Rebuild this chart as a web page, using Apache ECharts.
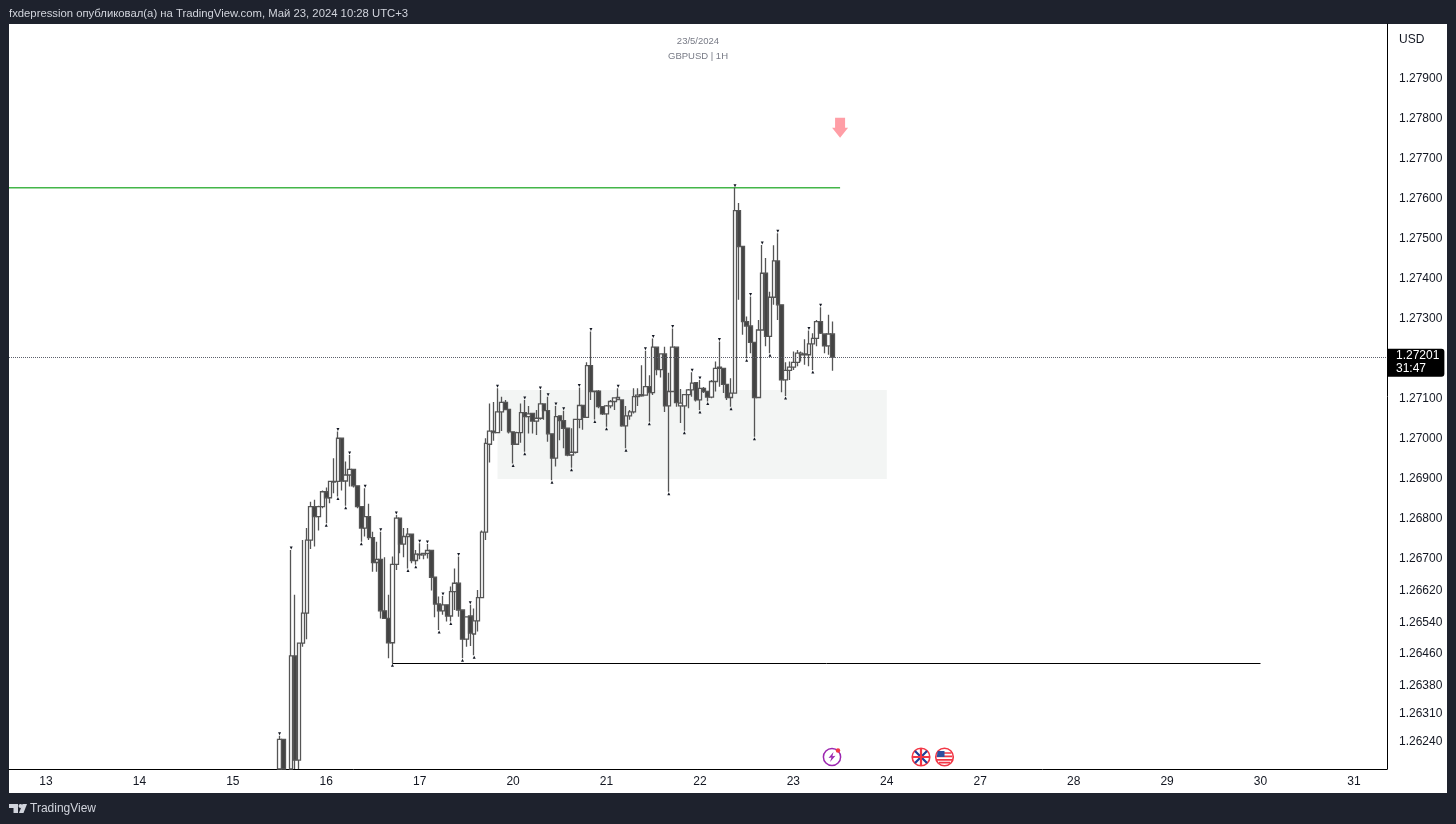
<!DOCTYPE html>
<html>
<head>
<meta charset="utf-8">
<title>GBPUSD 1H</title>
<script src="https://cdn.jsdelivr.net/npm/echarts@6/dist/echarts.min.js"></script>
<style>
    html, body { margin: 0; padding: 0; background: #1e222d; }
    #panel { position: absolute; left: 9px; top: 24px; width: 1438px; height: 769px; background: #fff; }
    #chart { position: absolute; left: 0; top: 0; width: 1456px; height: 824px; }
</style>
</head>
<body>
<div id="panel"></div>
<div id="chart"></div>
<script>
// every row is [open, close, low, high], prices under the visible range are cut at the axis
var bars15 = [
    [1.26170, 1.26244, 1.26170, 1.26253], [1.26244, 1.26170, 1.26170, 1.26244], [null, null, null, null],
    [1.26170, 1.26453, 1.26170, 1.26718], [1.26453, 1.26192, 1.26170, 1.26606], [1.26192, 1.26485, 1.26170, 1.26485],
    [1.26485, 1.26560, 1.26476, 1.26743], [1.26560, 1.26743, 1.26495, 1.26773], [1.26743, 1.26827, 1.26721, 1.26839],
    [1.26827, 1.26802, 1.26727, 1.26844], [1.26802, 1.26827, 1.26767, 1.26829], [1.26827, 1.26864, 1.26823, 1.26867]
];
var bars16 = [
    [1.26864, 1.26849, 1.26785, 1.26875], [1.26849, 1.26890, 1.26835, 1.26890], [1.26888, 1.26890, 1.26860, 1.26948],
    [1.26890, 1.26998, 1.26852, 1.27015], [1.26998, 1.26891, 1.26867, 1.26998], [1.26891, 1.26906, 1.26829, 1.26940],
    [1.26906, 1.26920, 1.26877, 1.26956], [1.26920, 1.26879, 1.26875, 1.26920], [1.26879, 1.26827, 1.26823, 1.26879],
    [1.26827, 1.26773, 1.26739, 1.26827], [1.26773, 1.26802, 1.26752, 1.26873], [1.26802, 1.26749, 1.26743, 1.26834],
    [1.26749, 1.26687, 1.26664, 1.26764], [1.26687, 1.26695, 1.26664, 1.26739], [1.26695, 1.26566, 1.26547, 1.26764],
    [1.26566, 1.26547, 1.26547, 1.26700], [1.26547, 1.26486, 1.26447, 1.26606], [1.26486, 1.26682, 1.26435, 1.26702],
    [1.26682, 1.26798, 1.26668, 1.26806], [1.26798, 1.26733, 1.26710, 1.26798], [1.26733, 1.26752, 1.26700, 1.26773],
    [1.26752, 1.26758, 1.26672, 1.26773], [1.26758, 1.26692, 1.26685, 1.26758], [1.26692, 1.26708, 1.26681, 1.26718]
];
var bars17 = [
    [1.26706, 1.26708, 1.26695, 1.26735], [1.26706, 1.26710, 1.26695, 1.26710], [1.26710, 1.26717, 1.26697, 1.26733],
    [1.26717, 1.26650, 1.26617, 1.26717], [1.26650, 1.26583, 1.26550, 1.26650], [1.26583, 1.26566, 1.26518, 1.26602],
    [1.26566, 1.26581, 1.26556, 1.26603], [1.26581, 1.26553, 1.26539, 1.26581], [1.26553, 1.26614, 1.26539, 1.26627],
    [1.26614, 1.26635, 1.26568, 1.26672], [1.26635, 1.26568, 1.26551, 1.26702], [1.26568, 1.26495, 1.26447, 1.26568],
    [1.26495, 1.26551, 1.26476, 1.26551], [1.26553, 1.26510, 1.26478, 1.26581], [1.26508, 1.26541, 1.26455, 1.26572],
    [1.26541, 1.26599, 1.26514, 1.26618], [1.26599, 1.26763, 1.26599, 1.26767], [1.26763, 1.26985, 1.26743, 1.26998],
    [1.26983, 1.27016, 1.26937, 1.27085], [1.27016, 1.27012, 1.26992, 1.27089], [1.27012, 1.27064, 1.27012, 1.27123],
    [1.27064, 1.27088, 1.27016, 1.27102], [1.27088, 1.27070, 1.27069, 1.27094], [1.27070, 1.27014, 1.27010, 1.27070]
];
var bars20 = [
    [1.27014, 1.26983, 1.26935, 1.27014], [1.26983, 1.27012, 1.26983, 1.27014], [1.27012, 1.27062, 1.26987, 1.27085],
    [1.27062, 1.27052, 1.26964, 1.27094], [1.27052, 1.27059, 1.27010, 1.27079], [1.27060, 1.27041, 1.27010, 1.27060],
    [1.27041, 1.27048, 1.27006, 1.27069], [1.27048, 1.27084, 1.27044, 1.27119], [1.27084, 1.27067, 1.27044, 1.27085],
    [1.27067, 1.27009, 1.26989, 1.27102], [1.27009, 1.26948, 1.26893, 1.27009], [1.26948, 1.27052, 1.26927, 1.27079],
    [1.27054, 1.27042, 1.26993, 1.27054], [1.27042, 1.27023, 1.26973, 1.27067], [1.27023, 1.26956, 1.26953, 1.27023],
    [1.26956, 1.26963, 1.26924, 1.27023], [1.26963, 1.27045, 1.26960, 1.27045], [1.27045, 1.27080, 1.27023, 1.27125],
    [1.27080, 1.27050, 1.27019, 1.27080], [1.27050, 1.27180, 1.27050, 1.27188], [1.27180, 1.27115, 1.27094, 1.27265],
    [1.27116, 1.27115, 1.27045, 1.27116], [1.27116, 1.27077, 1.27073, 1.27119], [1.27077, 1.27059, 1.27056, 1.27077]
];
var bars21 = [
    [1.27059, 1.27079, 1.27027, 1.27081], [1.27079, 1.27090, 1.27073, 1.27094], [1.27090, 1.27099, 1.27069, 1.27100],
    [1.27095, 1.27100, 1.27094, 1.27123], [1.27094, 1.27029, 1.27027, 1.27094], [1.27029, 1.27054, 1.26973, 1.27079],
    [1.27054, 1.27064, 1.27044, 1.27069], [1.27064, 1.27102, 1.27060, 1.27123], [1.27102, 1.27106, 1.27079, 1.27123],
    [1.27104, 1.27107, 1.27102, 1.27181], [1.27106, 1.27127, 1.27106, 1.27217], [1.27127, 1.27112, 1.27039, 1.27156],
    [1.27112, 1.27226, 1.27106, 1.27248], [1.27226, 1.27170, 1.27156, 1.27226], [1.27170, 1.27209, 1.27150, 1.27209],
    [1.27209, 1.27079, 1.27064, 1.27227], [1.27079, 1.27115, 1.26864, 1.27162], [1.27115, 1.27226, 1.27115, 1.27273],
    [1.27226, 1.27087, 1.27077, 1.27227], [1.27079, 1.27086, 1.27036, 1.27121], [1.27079, 1.27107, 1.27017, 1.27107],
    [1.27107, 1.27119, 1.27073, 1.27121], [1.27119, 1.27136, 1.27102, 1.27163], [1.27137, 1.27094, 1.27090, 1.27137]
];
var bars22 = [
    [1.27094, 1.27123, 1.27069, 1.27144], [1.27123, 1.27115, 1.27111, 1.27126], [1.27115, 1.27101, 1.27090, 1.27115],
    [1.27101, 1.27140, 1.27098, 1.27144], [1.27140, 1.27173, 1.27115, 1.27190], [1.27173, 1.27176, 1.27127, 1.27240],
    [1.27173, 1.27133, 1.27111, 1.27173], [1.27133, 1.27100, 1.27094, 1.27133], [1.27100, 1.27111, 1.27077, 1.27148],
    [1.27111, 1.27568, 1.27111, 1.27625], [1.27568, 1.27478, 1.27345, 1.27587], [1.27478, 1.27290, 1.27257, 1.27478],
    [1.27290, 1.27279, 1.27198, 1.27303], [1.27279, 1.27238, 1.27211, 1.27353], [1.27238, 1.27100, 1.27002, 1.27238],
    [1.27100, 1.27269, 1.27100, 1.27294], [1.27269, 1.27411, 1.27269, 1.27482], [1.27411, 1.27253, 1.27228, 1.27449],
    [1.27253, 1.27351, 1.27211, 1.27365], [1.27351, 1.27442, 1.27332, 1.27481], [1.27442, 1.27332, 1.27294, 1.27511],
    [1.27332, 1.27144, 1.27113, 1.27332], [1.27144, 1.27168, 1.27104, 1.27188], [1.27168, 1.27176, 1.27144, 1.27190]
];
var bars23 = [
    [1.27176, 1.27188, 1.27169, 1.27215], [1.27188, 1.27211, 1.27178, 1.27219], [1.27207, 1.27211, 1.27190, 1.27215],
    [1.27207, 1.27209, 1.27182, 1.27246], [1.27207, 1.27234, 1.27178, 1.27268], [1.27234, 1.27248, 1.27169, 1.27261],
    [1.27248, 1.27290, 1.27228, 1.27294], [1.27290, 1.27261, 1.27259, 1.27326], [1.27259, 1.27229, 1.27211, 1.27259],
    [1.27229, 1.27259, 1.27207, 1.27307], [1.27259, 1.27201, 1.27167, 1.27290]
];
var firstBar = 69;
var barCount = 354;

// swing markers, by bar number
var swingHighs = [69, 72, 84, 87, 91, 95, 99, 105, 107, 111, 115, 118, 125, 132, 136, 138, 140, 142, 146, 149, 156, 163, 165, 170, 175, 177, 182, 186, 190, 193, 197, 205, 208];
var swingLows = [81, 84, 86, 90, 98, 102, 104, 110, 113, 116, 119, 129, 132, 139, 144, 150, 153, 158, 164, 169, 173, 177, 179, 185, 189, 191, 195, 199, 206];

var dayBars = [9, 33, 57, 81, 105, 129, 153, 177, 201, 225, 249, 273, 297, 321, 345];
var dayLabels = ['13', '14', '15', '16', '17', '20', '21', '22', '23', '24', '27', '28', '29', '30', '31'];
var priceTicks = [1.2624, 1.2631, 1.2638, 1.2646, 1.2654, 1.2662, 1.2670, 1.2680, 1.2690, 1.2700, 1.2710, 1.2730, 1.2740, 1.2750, 1.2760, 1.2770, 1.2780, 1.2790];

var lastPrice = 1.27201;
var resistance = 1.27625;   // green line
var support = 1.26435;      // black line
var zoneTop = 1.27119;
var zoneBottom = 1.26896;
var arrowMark = [213, 1.27775];

var bars = bars15.concat(bars16, bars17, bars20, bars21, bars22, bars23);

var categories = [];
for (var i = 0; i < barCount; i++) {
    var at = dayBars.indexOf(i);
    categories.push(at > -1 ? dayLabels[at] : '');
}

var candleData = bars.map(function (b, n) {
    return [n + firstBar, b[0], b[1], b[2], b[3]];
});
var highMarks = swingHighs.map(function (n) {
    return [n, bars[n - firstBar][3]];
});
var lowMarks = swingLows.map(function (n) {
    return [n, bars[n - firstBar][2]];
});

function svgUri(body) {
    return 'data:image/svg+xml;charset=utf-8,' + encodeURIComponent(
        '<svg xmlns="http://www.w3.org/2000/svg" width="80" height="80" viewBox="0 0 20 20">' + body + '</svg>');
}
var boltIcon = svgUri('<circle cx="10" cy="10" r="8.6" fill="#fff" stroke="#9c27b0" stroke-width="1.5"/>' +
    '<path d="M11.5 5 L6.5 11 L9.5 10.6 L8 15 L13.5 8.8 L10.4 9.2 Z" fill="#9c27b0"/>' +
    '<circle cx="16" cy="3.5" r="2.2" fill="#f23645"/>');
var ukIcon = svgUri('<circle cx="10" cy="10" r="8.8" fill="#fff" stroke="#f23645" stroke-width="1.6"/>' +
    '<path d="M4 4 L16 16 M16 4 L4 16" stroke="#1f3f99" stroke-width="2.2"/>' +
    '<path d="M10 2 V18 M2 10 H18" stroke="#f23645" stroke-width="2.2"/>');
var usIcon = svgUri('<circle cx="10" cy="10" r="8.8" fill="#fff" stroke="#f23645" stroke-width="1.6"/>' +
    '<path d="M3 6 H17 M2.2 9.4 H17.8 M2.4 12.8 H17.6 M4.5 15.6 H15.5" stroke="#f23645" stroke-width="1.7"/>' +
    '<path d="M3.2 4 H10 V10 H2.2 Z" fill="#2f4f9f"/>');

var chart = echarts.init(document.getElementById('chart'));

var option = {
    animation: false,
    backgroundColor: 'transparent',
    textStyle: { fontFamily: '"Liberation Sans", Arial, sans-serif' },
    title: {
        text: '23/5/2024',
        subtext: 'GBPUSD | 1H',
        left: 693,
        top: 31,
        textAlign: 'center',
        itemGap: 4,
        textStyle: { fontSize: 9.5, fontWeight: 'normal', color: '#787b86', lineHeight: 11 },
        subtextStyle: { fontSize: 9.5, color: '#787b86', lineHeight: 11, align: 'center' }
    },
    grid: { left: 9, right: 69, top: 24, bottom: 55 },
    xAxis: {
        type: 'category',
        data: categories,
        axisLine: { show: true, lineStyle: { color: '#000', width: 1 } },
        axisTick: { show: false },
        splitLine: { show: false },
        axisLabel: {
            interval: 0,
            hideOverlap: false,
            margin: 7,
            fontSize: 12,
            color: '#131722'
        }
    },
    yAxis: {
        type: 'value',
        position: 'right',
        scale: true,
        min: 1.2617,
        max: 1.28035,
        axisLine: { show: true, onZero: false, lineStyle: { color: '#000', width: 1 } },
        axisTick: { show: false },
        splitLine: { show: false },
        axisLabel: {
            customValues: priceTicks,
            margin: 12,
            fontSize: 12,
            color: '#131722',
            formatter: function (v) {
                return '{p|' + v.toFixed(5) + '}';
            },
            rich: { p: { fontSize: 12, color: '#131722', padding: [2, 0, 0, 0] } }
        }
    },
    series: [
        {
            type: 'candlestick',
            data: candleData,
            encode: { x: 0, y: [1, 2, 3, 4] },
            barWidth: 4,
            itemStyle: {
                color: '#ffffff',
                color0: '#434343',
                borderColor: '#555',
                borderColor0: '#555',
                borderWidth: 1.3
            },
            z: 3,
            markArea: {
                silent: true,
                itemStyle: { color: '#f3f5f4' },
                data: [[{ xAxis: 125, yAxis: zoneTop }, { xAxis: 225, yAxis: zoneBottom }]]
            },
            markLine: {
                silent: true,
                symbol: 'none',
                animation: false,
                data: [
                    [{ xAxis: 98, yAxis: support, lineStyle: { color: '#000', width: 1, type: 'solid' }, label: { show: false } },
                        { xAxis: 321, yAxis: support }]
                ]
            }
        },
        {
            // green line, runs from the left edge of the first band
            type: 'custom',
            data: [[0, 213, resistance]],
            encode: { x: [0, 1], y: 2 },
            silent: true,
            z: 2,
            renderItem: function (params, api) {
                var from = api.coord([api.value(0), api.value(2)]);
                var to = api.coord([api.value(1), api.value(2)]);
                return {
                    type: 'line',
                    shape: { x1: from[0] - api.size([1, 0])[0] / 2, y1: from[1], x2: to[0], y2: to[1] },
                    style: { stroke: '#43b649', lineWidth: 1.4 }
                };
            }
        },
        {
            type: 'scatter',
            data: highMarks,
            symbol: 'triangle',
            symbolSize: 3,
            symbolRotate: 180,
            symbolOffset: [0, -2],
            itemStyle: { color: '#131722', opacity: 1 },
            z: 4,
            silent: true
        },
        {
            type: 'scatter',
            data: lowMarks,
            symbol: 'triangle',
            symbolSize: 3,
            symbolOffset: [0, 2],
            itemStyle: { color: '#131722', opacity: 1 },
            z: 4,
            silent: true
        },
        {
            type: 'scatter',
            data: [arrowMark],
            symbol: 'path://M3 0 H13 V10 H16 L8 20 L0 10 H3 Z',
            symbolSize: [16, 20],
            itemStyle: { color: '#ff9ea6', opacity: 1 },
            z: 4,
            silent: true,
            markLine: {
                silent: true,
                symbol: 'none',
                animation: false,
                precision: 5,
                data: [{
                    yAxis: lastPrice,
                    lineStyle: { color: '#5d606b', width: 1, type: 'dotted' },
                    label: {
                        position: 'end',
                        distance: 1,
                        offset: [0, 5.5],
                        formatter: function () {
                            return lastPrice.toFixed(5) + '\n31:47';
                        },
                        backgroundColor: '#000',
                        borderRadius: [0, 3, 3, 0],
                        color: '#fff',
                        fontSize: 12,
                        lineHeight: 13,
                        padding: [1, 5, 1, 8],
                        align: 'left'
                    }
                }]
            }
        }
    ],
    graphic: [
        {
            type: 'text', left: 9, top: 8, silent: true,
            style: { text: 'fxdepression опубликовал(а) на TradingView.com, Май 23, 2024 10:28 UTC+3', fill: '#d1d4dc', fontSize: 11.3, fontFamily: '"Liberation Sans", Arial, sans-serif' }
        },
        {
            type: 'text', left: 1399, top: 34, silent: true,
            style: { text: 'USD', fill: '#131722', fontSize: 12, fontFamily: '"Liberation Sans", Arial, sans-serif' }
        },
        { type: 'image', silent: true, style: { image: boltIcon, x: 822, y: 747, width: 20, height: 20 } },
        { type: 'image', silent: true, style: { image: ukIcon, x: 911, y: 747, width: 20, height: 20 } },
        { type: 'image', silent: true, style: { image: usIcon, x: 934.5, y: 747, width: 20, height: 20 } },
        // TradingView logo
        { type: 'polygon', silent: true, shape: { points: [[9, 804], [18, 804], [18, 813], [13.5, 813], [13.5, 808], [9, 808]] }, style: { fill: '#d1d4dc' } },
        { type: 'circle', silent: true, shape: { cx: 20.5, cy: 806, r: 2 }, style: { fill: '#d1d4dc' } },
        { type: 'polygon', silent: true, shape: { points: [[22.5, 804], [27, 804], [23.5, 813], [19, 813]] }, style: { fill: '#d1d4dc' } },
        {
            type: 'text', left: 30, top: 803, silent: true,
            style: { text: 'TradingView', fill: '#d1d4dc', fontSize: 12, fontFamily: '"Liberation Sans", Arial, sans-serif' }
        }
    ]
};

chart.setOption(option);
</script>
</body>
</html>
